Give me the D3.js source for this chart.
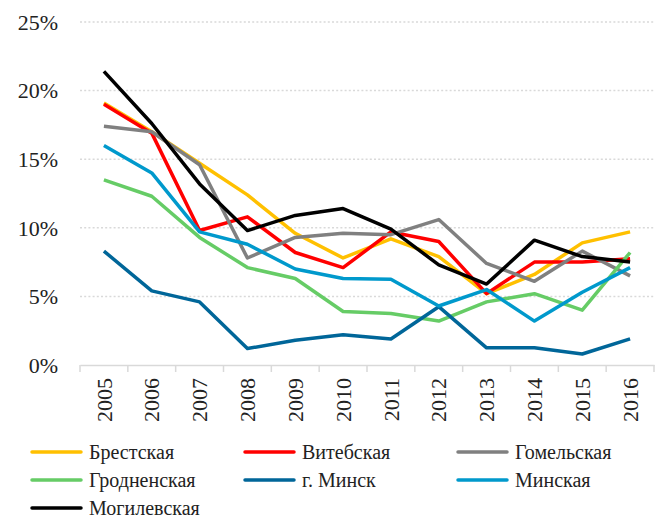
<!DOCTYPE html>
<html>
<head>
<meta charset="utf-8">
<script src="https://cdn.jsdelivr.net/npm/d3@7"></script>
<style>
  body { margin: 0; background: #fff; }
</style>
</head>
<body>
<div id="chart"></div>
<script>
// years on the x axis
const years = ["2005","2006","2007","2008","2009","2010","2011","2012","2013","2014","2015","2016"];
const yTicks = [0, 5, 10, 15, 20, 25];

// values in % per region
const brest    = [19.1, 17.0, 14.7, 12.4, 9.6, 7.8, 9.2, 7.9, 5.2, 6.6, 8.9, 9.7];
const vitebsk  = [19.0, 16.9, 9.8, 10.8, 8.2, 7.1, 9.7, 9.0, 5.2, 7.5, 7.5, 7.75];
const gomel    = [17.4, 17.0, 14.6, 7.8, 9.3, 9.6, 9.5, 10.6, 7.4, 6.1, 8.3, 6.5];
const grodno   = [13.5, 12.3, 9.3, 7.1, 6.3, 3.9, 3.75, 3.2, 4.6, 5.2, 4.0, 8.2];
const minskCity= [8.3, 5.4, 4.6, 1.2, 1.8, 2.2, 1.9, 4.25, 1.25, 1.25, 0.8, 1.9];
const minskReg = [16.0, 14.0, 9.7, 8.8, 7.0, 6.3, 6.25, 4.3, 5.5, 3.2, 5.3, 7.1];
const mogilev  = [21.4, 17.6, 13.2, 9.8, 10.9, 11.4, 9.9, 7.3, 5.9, 9.1, 7.9, 7.5];

const names  = ["Брестская","Витебская","Гомельская","Гродненская","г. Минск","Минская","Могилевская"];
const colors = ["#ffc000","#ff0000","#808080","#66cc66","#006699","#0099cc","#000000"];
const series = [brest, vitebsk, gomel, grodno, minskCity, minskReg, mogilev];

const width = 662, height = 521;
const font = "'Liberation Serif', 'Times New Roman', 'DejaVu Serif', serif";
const svg = d3.select("#chart").append("svg")
    .attr("width", width)
    .attr("height", height)
    .attr("font-family", font);

const x = d3.scaleBand().domain(years).range([80, 654]);
const y = d3.scaleLinear().domain([0, 25]).range([365, 22]);

// gridlines
svg.append("g")
    .selectAll("line")
    .data(yTicks.filter(d => d > 0))
    .enter()
    .append("line")
    .attr("x1", 80)
    .attr("x2", 654)
    .attr("y1", d => y(d))
    .attr("y2", d => y(d))
    .attr("stroke", "#d9d9d9")
    .attr("stroke-width", 1.5)
    .attr("stroke-dasharray", "2,2.2");

// y labels
svg.append("g")
    .selectAll("text")
    .data(yTicks)
    .enter()
    .append("text")
    .attr("x", 58)
    .attr("y", d => y(d))
    .attr("dy", "0.35em")
    .attr("text-anchor", "end")
    .attr("fill", "#222")
    .style("font-family", font)
    .style("font-size", "22px")
    .text(d => d + "%");

// x axis
const xAxis = svg.append("g")
    .attr("transform", "translate(0,365)")
    .call(d3.axisBottom(x).tickSize(0).tickFormat(""));
xAxis.select(".domain").attr("stroke", "#d9d9d9").attr("stroke-width", 1.5);
xAxis.selectAll(".sep")
    .data(d3.range(years.length + 1))
    .enter()
    .append("line")
    .attr("x1", i => 80 + i * x.step())
    .attr("x2", i => 80 + i * x.step())
    .attr("y1", 0)
    .attr("y2", 7)
    .attr("stroke", "#d9d9d9")
    .attr("stroke-width", 1.5);

svg.append("g")
    .selectAll("text")
    .data(years)
    .enter()
    .append("text")
    .attr("transform", d => "translate(" + (x(d) + x.bandwidth() / 2) + ",378) rotate(-90)")
    .attr("dy", "0.35em")
    .attr("text-anchor", "end")
    .attr("fill", "#222")
    .style("font-family", font)
    .style("font-size", "22px")
    .text(d => d);

// lines
const line = d3.line()
    .x((d, i) => x(years[i]) + x.bandwidth() / 2)
    .y(d => y(d));

svg.append("g")
    .selectAll("path")
    .data(series)
    .enter()
    .append("path")
    .attr("d", d => line(d))
    .attr("fill", "none")
    .attr("stroke", (d, i) => colors[i])
    .attr("stroke-width", 3.5)
    .attr("stroke-linejoin", "round");

// legend
const legX = [32, 245, 458];
const legY = [452, 480, 508];
const leg = svg.append("g")
    .selectAll("g")
    .data(names)
    .enter()
    .append("g")
    .attr("transform", (d, i) => "translate(" + legX[i % 3] + "," + legY[Math.floor(i / 3)] + ")");
leg.append("line")
    .attr("x1", 0)
    .attr("x2", 49)
    .attr("stroke", (d, i) => colors[i])
    .attr("stroke-width", 3.5)
    .attr("stroke-linecap", "round");
leg.append("text")
    .attr("x", 57)
    .attr("dy", "0.35em")
    .attr("fill", "#222")
    .style("font-family", font)
    .style("font-size", "20px")
    .text(d => d);
</script>
</body>
</html>
